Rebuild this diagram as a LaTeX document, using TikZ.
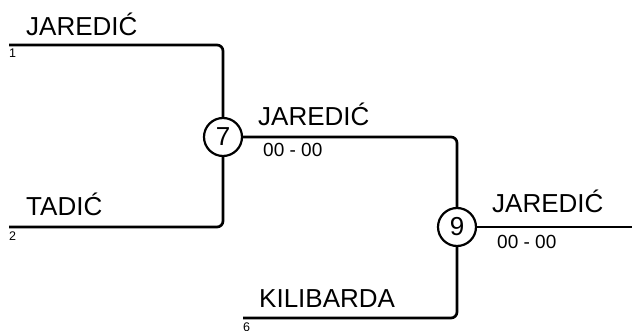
\documentclass[tikz,border=0pt]{standalone}
\usepackage{fontspec}
\setmainfont{Liberation Sans}
\usetikzlibrary{positioning}

\begin{document}
\begin{tikzpicture}[x=1pt, y=-1pt,
    bline/.style={line width=2.7pt, rounded corners=6pt},
    match/.style={circle, draw=black, line width=2.2pt, fill=white, minimum size=38pt, inner sep=0pt, font=\fontsize{26}{28}\selectfont},
    pname/.style={anchor=base west, inner sep=0pt, font=\fontsize{26}{28}\selectfont},
    score/.style={anchor=base west, inner sep=0pt, font=\fontsize{19}{21}\selectfont},
    seed/.style={anchor=base west, inner sep=0pt, font=\fontsize{12.5}{13}\selectfont}]
          \useasboundingbox (0, 0) rectangle (632, 331);
          \coordinate (P1) at (9, 45);
          \coordinate (P2) at (9, 227);
          \coordinate (P6) at (243, 318);
          \coordinate (W9) at (632, 227);
          \node[match] (M7) at (223, 137) {7};
          \node[match] (M9) at (457, 227) {9};

          \draw[bline] (P1) -| (M7);
          \draw[bline] (P2) -| (M7);
          \draw[bline] (M7) -| (M9);
          \draw[bline] (P6) -| (M9);
          \draw[bline] (M9) -- (W9);

          % names above the lines, seeds below
          \node[pname] (N1) at (26, 36) {JAREDIĆ};
          \node[seed] (S1) at (9, 58) {1};
          \node[pname] (N2) at (26, 216) {TADIĆ};
          \node[seed] (S2) at (9, 241) {2};
          \node[pname] (N6) at (259, 307) {KILIBARDA};
          \node[seed] (S6) at (243, 331) {6};

          \node[pname] (N7) at (258, 126) {JAREDIĆ};
          \node[score] (R7) at (263, 157) {00 - 00};
          \node[pname] (N9) at (492, 213) {JAREDIĆ};
          \node[score] (R9) at (497, 248) {00 - 00};
        \end{tikzpicture}
\end{document}
